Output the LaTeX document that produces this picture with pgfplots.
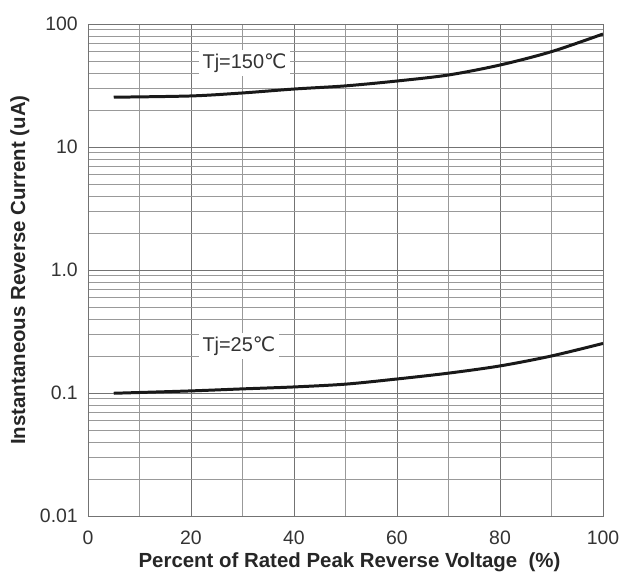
\documentclass[border=0pt]{standalone}
\usepackage{pgfplots}
\pgfplotsset{compat=1.18}
\usepackage{fontspec}
\setmainfont{Liberation Sans}
\newfontfamily\dejavu{DejaVu Sans}
\begin{document}
\begin{tikzpicture}[x=1bp,y=1bp]
\begin{axis}[
  scale only axis, width=515bp, height=492bp,
  xmin=0, xmax=100, ymode=log, ymin=0.01, ymax=100,
  xtick={0,20,...,100}, minor xtick={10,30,50,70,90},
  ytick={0.01,0.1,1,10,100},
  yticklabels={0.01\hspace{7bp},0.1\hspace{7bp},1.0\hspace{6bp},10,100},
  grid=both,
  major grid style={draw=black!55, line width=0.9pt},
  minor grid style={draw=black!40, line width=0.8pt},
  axis line style={draw=black!55, line width=0.9pt},
  tick style={draw=none},
  /pgf/number format/assume math mode=true,
  tick label style={font=\fontsize{19.5}{19.5}\selectfont, text=black!80, inner sep=0pt},
  xticklabel style={font=\fontsize{19.5}{19.5}\selectfont, anchor=base, yshift=-29bp},
  yticklabel style={font=\fontsize{19.5}{19.5}\selectfont, anchor=east, xshift=-10bp},
  xlabel={Percent of Rated Peak Reverse Voltage\ \ (\%)},
  ylabel={Instantaneous Reverse Current (uA)},
  label style={font=\bfseries\fontsize{20.5}{20.5}\selectfont, text=black!85, inner sep=0pt},
  xlabel style={at={(axis description cs:0.5078,-0.1057)}, anchor=base},
  ylabel style={at={(axis description cs:-0.1223,0.5)}, anchor=base, rotate=0},
]
\addplot[black!90, line width=3pt, smooth] coordinates {
 (5,25.4) (20,26.0) (30,27.5) (40,29.6) (50,31.4) (60,34.4) (70,38.5) (80,46.4) (90,59.6) (100,82.9)};
\addplot[black!90, line width=3pt, smooth] coordinates {
 (5,0.0995) (20,0.104) (30,0.108) (40,0.112) (50,0.118) (60,0.130) (70,0.145) (80,0.166) (90,0.200) (100,0.253)};
\node[fill=white, inner xsep=4bp, inner ysep=4bp, font=\fontsize{20}{20}\selectfont, text=black!80] at (axis cs:30.4,48.2) {Tj=150{\dejavu ℃}};
\node[fill=white, inner xsep=4bp, inner ysep=4bp, font=\fontsize{20}{20}\selectfont, text=black!80] at (axis cs:29.3,0.241) {Tj=25{\dejavu ℃}};
\coordinate (ll) at (rel axis cs:0,0);
\coordinate (ur) at (rel axis cs:1,1);
\end{axis}
\pgfresetboundingbox
\path[use as bounding box] ([shift={(-88bp,-62bp)}]ll) rectangle ([shift={(24bp,24bp)}]ur);
\end{tikzpicture}
\end{document}
